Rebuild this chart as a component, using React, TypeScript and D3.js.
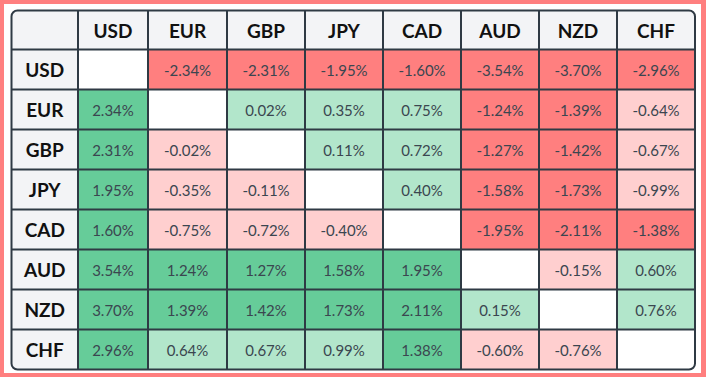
import React from "react";
import * as d3 from "d3";

const currencies = ["USD", "EUR", "GBP", "JPY", "CAD", "AUD", "NZD", "CHF"];

const usdRow = [null, -2.34, -2.31, -1.95, -1.6, -3.54, -3.7, -2.96];
const eurRow = [2.34, null, 0.02, 0.35, 0.75, -1.24, -1.39, -0.64];
const gbpRow = [2.31, -0.02, null, 0.11, 0.72, -1.27, -1.42, -0.67];
const jpyRow = [1.95, -0.35, -0.11, null, 0.4, -1.58, -1.73, -0.99];
const cadRow = [1.6, -0.75, -0.72, -0.4, null, -1.95, -2.11, -1.38];
const audRow = [3.54, 1.24, 1.27, 1.58, 1.95, null, -0.15, 0.6];
const nzdRow = [3.7, 1.39, 1.42, 1.73, 2.11, 0.15, null, 0.76];
const chfRow = [2.96, 0.64, 0.67, 0.99, 1.38, -0.6, -0.76, null];

const rows = [usdRow, eurRow, gbpRow, jpyRow, cadRow, audRow, nzdRow, chfRow];

const W = 706;
const H = 377;
const tableX = 11.5;
const tableY = 10.5;
const colWidths = [66.5, 70, 79, 78, 78, 78, 78, 78, 78];
const headerH = 39;
const rowH = 40;

const colLefts = colWidths.map((_, i) => tableX + d3.sum(colWidths.slice(0, i)));
const tableW = d3.sum(colWidths);
const tableH = headerH + rowH * currencies.length;

const xLeft = d3.scaleOrdinal<string, number>().domain(["", ...currencies]).range(colLefts);
const xWidth = d3.scaleOrdinal<string, number>().domain(["", ...currencies]).range(colWidths);
const yTop = d3
  .scaleLinear()
  .domain([0, currencies.length])
  .range([tableY + headerH, tableY + headerH + rowH * currencies.length]);

const color = d3
  .scaleThreshold<number, string>()
  .domain([-1, 0, 1])
  .range(["#ff7f7f", "#ffcfcf", "#b2e6cb", "#66cc99"]);

const fmt = (v: number) => `${v.toFixed(2)}%`;

const FONT = "Lato, 'Open Sans', sans-serif";
const HEAD_BG = "#f3f4f6";
const LINE = "#2f3a44";

export default function App() {
  return (
    <svg
      width={W}
      height={H}
      style={{ position: "absolute", left: 0, top: 0, display: "block" }}
      fontFamily={FONT}
    >
      <defs>
        <clipPath id="tbl">
          <rect x={tableX} y={tableY} width={tableW} height={tableH} rx={6} ry={6} />
        </clipPath>
      </defs>
      <rect x={0} y={0} width={W} height={H} fill="#ff7f7f" />
      <rect x={4} y={4} width={697} height={369} fill="#ffffff" />
      <g clipPath="url(#tbl)">
        <rect x={tableX} y={tableY} width={tableW} height={tableH} fill={HEAD_BG} />
        {rows.map((row, i) =>
          row.map((v, j) => (
            <rect
              key={`c${i}-${j}`}
              x={xLeft(currencies[j])}
              y={yTop(i)}
              width={xWidth(currencies[j])}
              height={rowH}
              fill={v === null ? "#ffffff" : color(v)}
            />
          ))
        )}
      </g>
      {colLefts.slice(1).map((x, i) => (
        <line key={`v${i}`} x1={x} x2={x} y1={tableY} y2={tableY + tableH} stroke={LINE} strokeWidth={2} />
      ))}
      {d3.range(0, currencies.length).map((i) => (
        <line
          key={`h${i}`}
          x1={tableX}
          x2={tableX + tableW}
          y1={yTop(i)}
          y2={yTop(i)}
          stroke={LINE}
          strokeWidth={2}
        />
      ))}
      <rect
        x={tableX}
        y={tableY}
        width={tableW}
        height={tableH}
        rx={6}
        ry={6}
        fill="none"
        stroke={LINE}
        strokeWidth={2}
      />
      {currencies.map((c) => (
        <text
          key={`hd${c}`}
          x={xLeft(c) + xWidth(c) / 2}
          y={tableY + headerH / 2 + 0.5}
          textAnchor="middle"
          dominantBaseline="central"
          fontSize={19}
          fontWeight={700}
          fill="#111111"
        >
          {c}
        </text>
      ))}
      {currencies.map((c, i) => (
        <text
          key={`rl${c}`}
          x={xLeft("") + xWidth("") / 2}
          y={yTop(i) + rowH / 2}
          textAnchor="middle"
          dominantBaseline="central"
          fontSize={19}
          fontWeight={700}
          fill="#111111"
        >
          {c}
        </text>
      ))}
      {rows.map((row, i) =>
        row.map((v, j) =>
          v === null ? null : (
            <text
              key={`t${i}-${j}`}
              x={xLeft(currencies[j]) + xWidth(currencies[j]) / 2}
              y={yTop(i) + rowH / 2}
              textAnchor="middle"
              dominantBaseline="central"
              fontSize={15}
              fill="#3b4650"
            >
              {fmt(v)}
            </text>
          )
        )
      )}
    </svg>
  );
}
